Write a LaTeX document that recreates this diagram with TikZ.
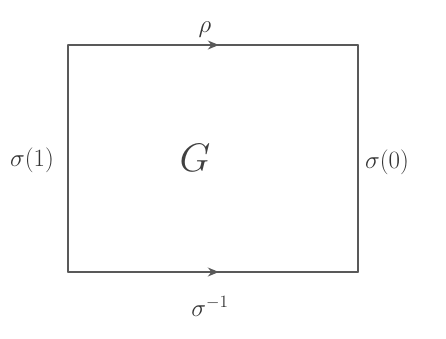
\documentclass[tikz,border=0pt]{standalone}
\usepackage{graphicx}
\usetikzlibrary{decorations.markings,arrows.meta}
\begin{document}
\begin{tikzpicture}[x=1pt,y=-1pt,
  side/.style={draw=black!65, line width=1.4pt, line cap=round},
  midarrow/.style={side, postaction={decorate}, decoration={markings, mark=at position #1 with {\arrow{Stealth[length=11pt,width=9pt]}}}},
  lbl/.style={font=\huge, text=black!80}
]
\useasboundingbox (0,0) rectangle (446,338);
\coordinate (tl) at (68,45);
\coordinate (tr) at (358,45);
\coordinate (br) at (358,272);
\coordinate (bl) at (68,272);
\draw[midarrow=0.52] (tl) -- (tr);
\draw[side] (tr) -- (br);
\draw[midarrow=0.52] (bl) -- (br);
\draw[side] (tl) -- (bl);
\node[lbl] (rho) at (205,30) {\scalebox{1.2}{$\rho$}};
\node[lbl] (s1) at (32,160) {\scalebox{1.2}{$\sigma(1)$}};
\node[lbl] (s0) at (387,162) {\scalebox{1.2}{$\sigma(0)$}};
\node[lbl] (sinv) at (210,306) {\scalebox{1.2}{$\sigma^{-1}$}};
\node[font=\Huge, text=black!75] (G) at (195,158) {\scalebox{1.6}{$G$}};
\end{tikzpicture}
\end{document}
